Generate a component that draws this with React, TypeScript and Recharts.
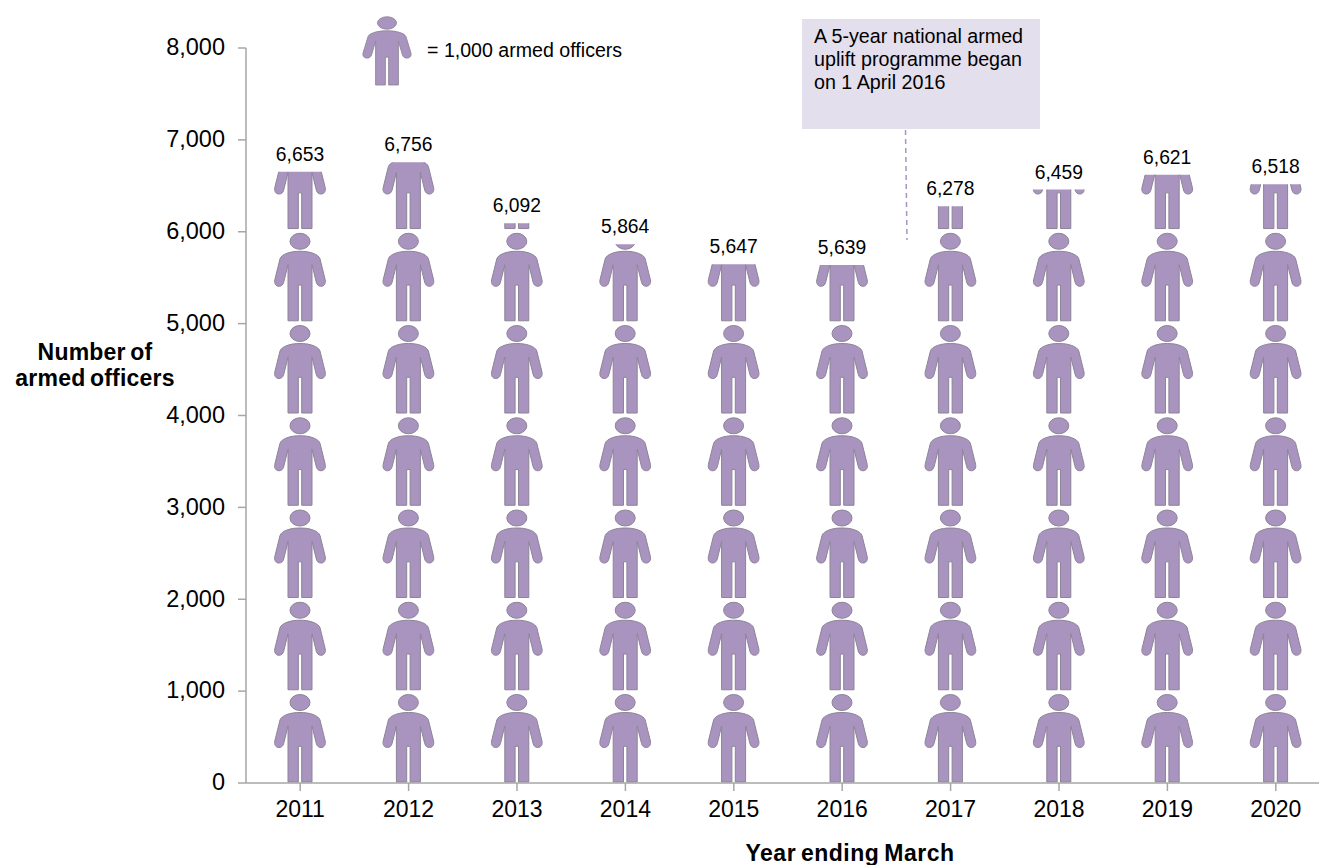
import { BarChart, Bar, XAxis, YAxis, LabelList } from 'recharts';

// 数据
const years = ['2011', '2012', '2013', '2014', '2015', '2016', '2017', '2018', '2019', '2020'];
const officers = [6653, 6756, 6092, 5864, 5647, 5639, 6278, 6459, 6621, 6518];
const yTicks = [0, 1000, 2000, 3000, 4000, 5000, 6000, 7000, 8000];
const noteLines = ['A 5-year national armed', 'uplift programme began', 'on 1 April 2016'];

const chartData = years.map((year, i) => ({ year, officers: officers[i] }));

const FONT = '"Liberation Sans", Arial, sans-serif';
const PERSON_UNIT = 1000;
// 原图的图标间距比刻度间距略大
const PITCH_STRETCH = 1.004;

// 一个人形图标，原点在脚底中心
const BODY_PATH =
  'M0,-69.5 C5,-69.5 9,-69 13,-67.5 C17,-66 19,-64.5 20,-62 L25.2,-41 C26,-37 24,-34.5 21,-34.5 C18.5,-34.5 17,-36 16.3,-38.5 L12,-56 L12,0 L1.7,0 L1.7,-35.7 L-1.7,-35.7 L-1.7,0 L-12,0 L-12,-56 L-16.3,-38.5 C-17,-36 -18.5,-34.5 -21,-34.5 C-24,-34.5 -26,-37 -25.2,-41 L-20,-62 C-19,-64.5 -17,-66 -13,-67.5 C-9,-69 -5,-69.5 0,-69.5 Z';

function Person({ transform }: { transform: string }) {
  return (
    <g transform={transform} fill="#a894be" stroke="#8d8498" strokeWidth={1}>
      <ellipse cx={0} cy={-79.5} rx={10} ry={8} />
      <path d={BODY_PATH} />
    </g>
  );
}

// 按数值裁剪的人形堆叠
function PersonStack(props: any) {
  const { x, y, width, height, index, payload } = props;
  const unit = (height / (payload.officers / PERSON_UNIT)) * PITCH_STRETCH;
  const count = Math.ceil(payload.officers / PERSON_UNIT);
  const cx = x + width / 2;
  const bottom = y + height;
  const id = `stack-clip-${index}`;
  return (
    <g>
      <clipPath id={id}>
        <rect x={x} y={y} width={width} height={height + 2} />
      </clipPath>
      <g clipPath={`url(#${id})`}>
        {Array.from({ length: count }, (_, k) => (
          <Person key={k} transform={`translate(${cx},${bottom - k * unit - 1})`} />
        ))}
      </g>
    </g>
  );
}

export default function App() {
  return (
    <div
      style={{
        position: 'absolute',
        left: 0,
        top: 0,
        width: 1319,
        height: 865,
        overflow: 'hidden',
        background: '#fff',
        fontFamily: FONT,
        color: '#000',
      }}
    >
      <BarChart
        width={1340}
        height={865}
        data={chartData}
        margin={{ top: 48, right: 10, left: 0, bottom: 0 }}
        barCategoryGap={0}
      >
        <XAxis
          dataKey="year"
          interval={0}
          axisLine={{ stroke: '#a6a6a6', strokeWidth: 1.5 }}
          tickLine={{ stroke: '#a6a6a6', strokeWidth: 1.5 }}
          tickSize={8}
          tickMargin={10}
          tick={{ fontSize: 23, fill: '#000', fontFamily: FONT }}
          height={82}
        />
        <YAxis
          domain={[0, 8000]}
          ticks={yTicks}
          interval={0}
          width={246}
          axisLine={{ stroke: '#a6a6a6', strokeWidth: 1.5 }}
          tickLine={{ stroke: '#a6a6a6', strokeWidth: 1.5 }}
          tickSize={8}
          tickMargin={13}
          tickFormatter={(v: number) => v.toLocaleString('en-GB')}
          tick={{ fontSize: 23.5, fill: '#000', fontFamily: FONT, dy: -1 }}
        />
        <Bar dataKey="officers" shape={PersonStack} isAnimationActive={false}>
          <LabelList
            dataKey="officers"
            position="top"
            offset={11}
            formatter={(v: number) => v.toLocaleString('en-GB')}
            style={{ fontSize: 19.3, fill: '#000', fontFamily: FONT }}
          />
        </Bar>
      </BarChart>

      {/* 图例 */}
      <svg style={{ position: 'absolute', left: 350, top: 10, overflow: 'visible' }} width={80} height={80}>
        <Person transform="translate(37,75) scale(0.95,0.78)" />
      </svg>
      <div style={{ position: 'absolute', left: 427, top: 39, fontSize: 19.6, whiteSpace: 'nowrap' }}>
        = 1,000 armed officers
      </div>

      {/* 注释框 */}
      <div
        style={{
          position: 'absolute',
          left: 802,
          top: 19,
          width: 238,
          height: 110,
          background: '#e4dfec',
          boxSizing: 'border-box',
          padding: '6px 12px',
          fontSize: 19.7,
          lineHeight: '23px',
        }}
      >
        {noteLines.map((line) => (
          <div key={line} style={{ whiteSpace: 'nowrap' }}>
            {line}
          </div>
        ))}
      </div>
      <svg style={{ position: 'absolute', left: 900, top: 130 }} width={12} height={112}>
        <line x1={5.5} y1={0} x2={7} y2={110} stroke="#a894be" strokeWidth={1.5} strokeDasharray="5 4" />
      </svg>

      {/* 坐标轴标题 */}
      <div
        style={{
          position: 'absolute',
          left: 0,
          top: 339,
          width: 190,
          textAlign: 'center',
          fontWeight: 'bold',
          fontSize: 23,
          lineHeight: '26px',
          letterSpacing: 0.2,
          wordSpacing: -2,
        }}
      >
        Number of
        <br />
        armed officers
      </div>
      <div
        style={{
          position: 'absolute',
          left: 700,
          top: 842,
          width: 300,
          height: 22,
          textAlign: 'center',
          fontWeight: 'bold',
          fontSize: 23,
          lineHeight: '22px',
          letterSpacing: 0.5,
          wordSpacing: -2,
        }}
      >
        Year ending March
      </div>
    </div>
  );
}
